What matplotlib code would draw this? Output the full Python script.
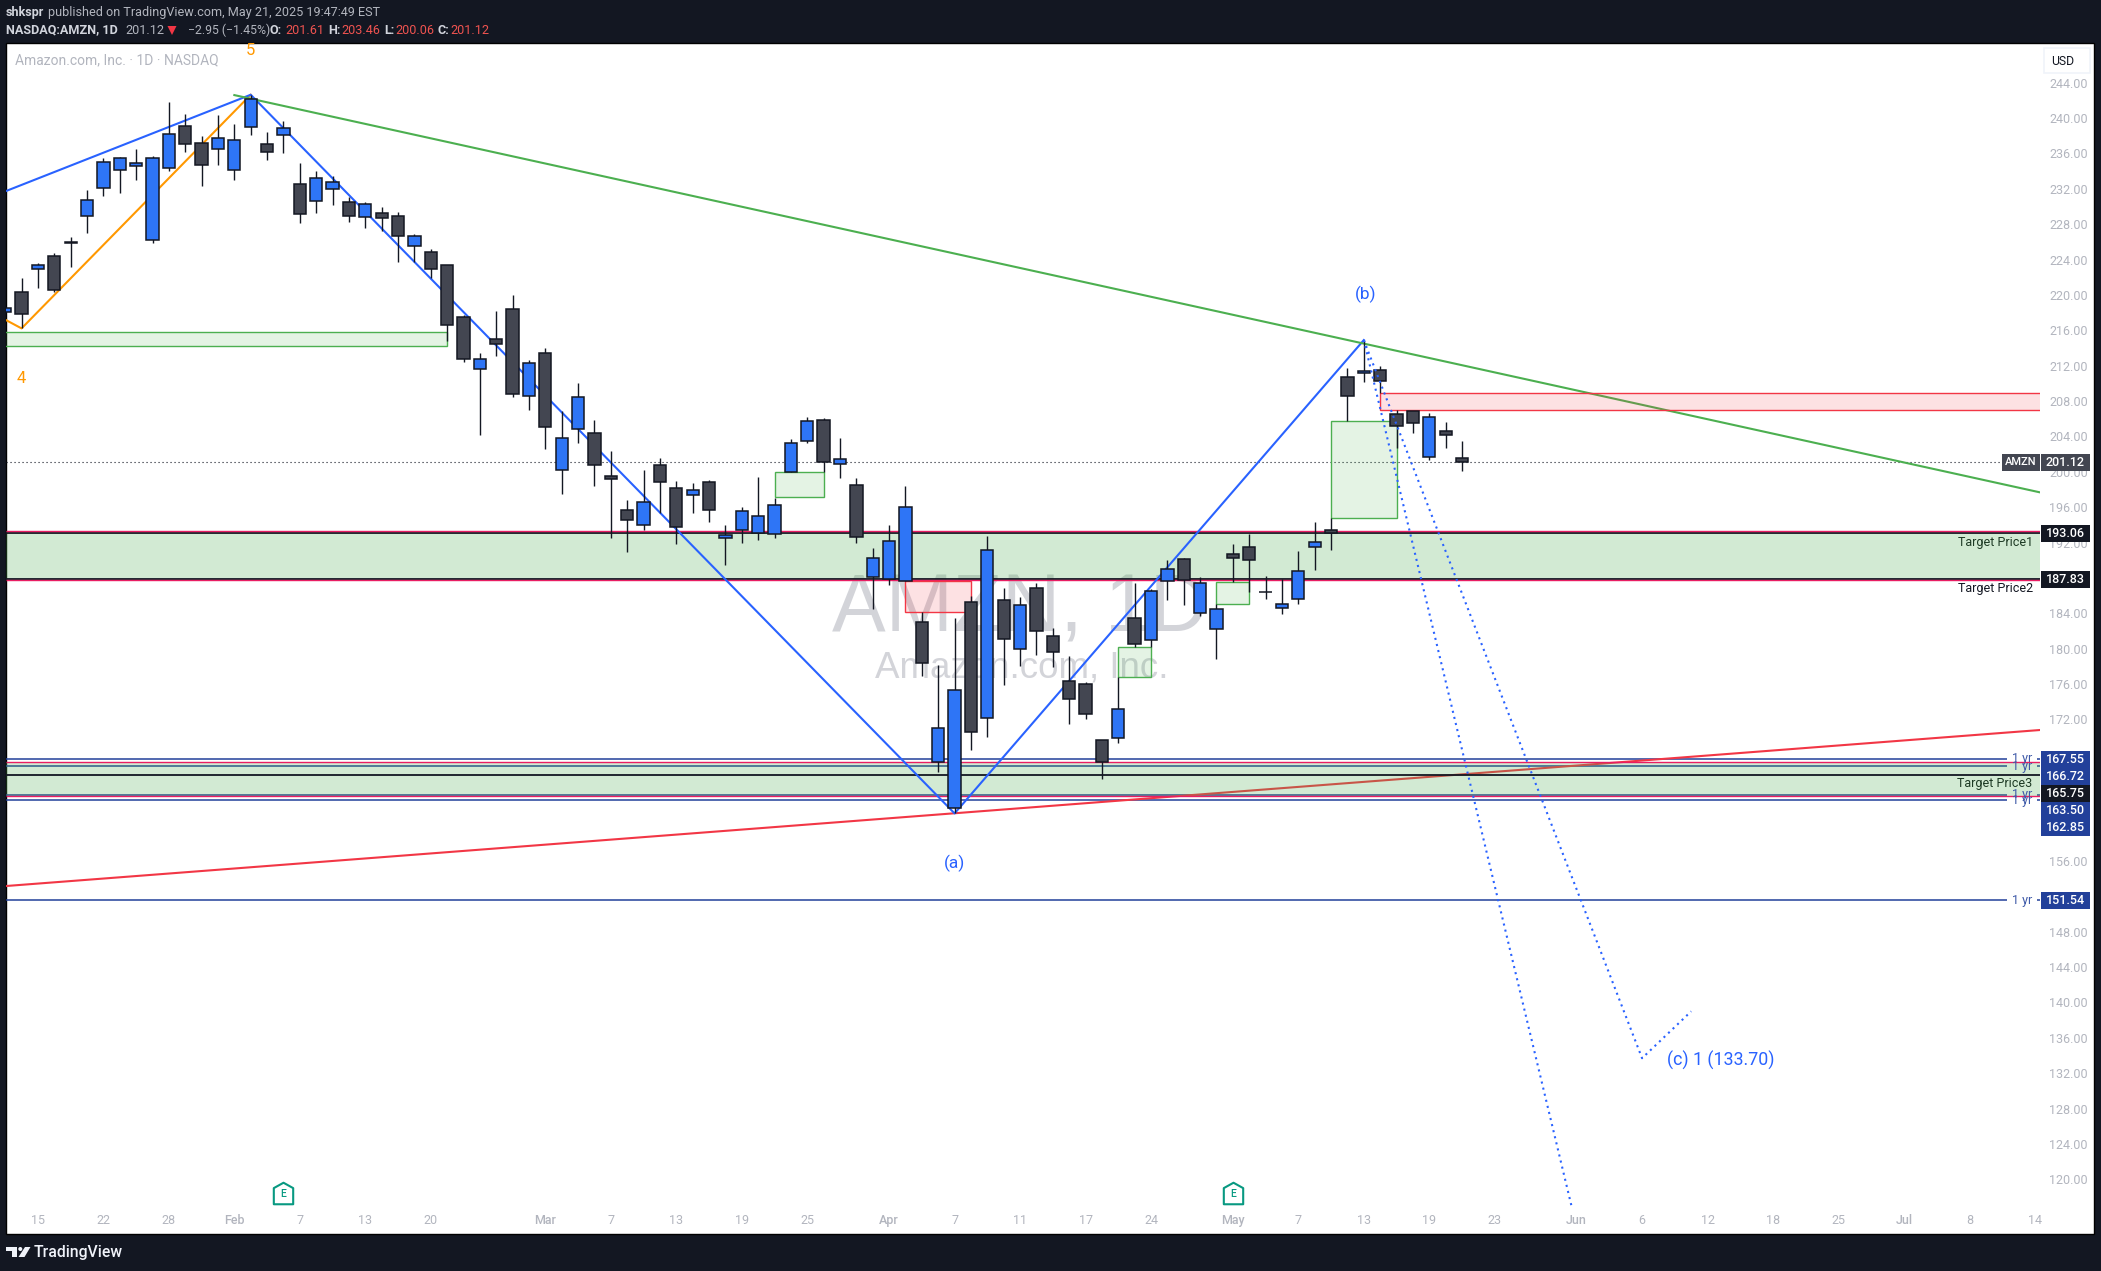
import numpy as np
import matplotlib
matplotlib.use("Agg")
import matplotlib.pyplot as plt
from matplotlib.patches import Rectangle, Polygon, Circle
from matplotlib.path import Path
from matplotlib.transforms import IdentityTransform

plt.rcParams['font.family'] = ['Roboto', 'DejaVu Sans']

W, H = 2101, 1271

# daily candles, bar -2 is Jan 13 2025
bar_first = -2
opens = [218.03, 220.37, 222.89, 224.44, 225.98, 228.88, 232.05, 234.09, 234.54, 226.17,
         234.31, 239.06, 237.14, 236.46, 234.09, 239.02, 237.03, 238.04, 232.50, 230.58,
         231.94, 230.47, 228.85, 229.22, 228.88, 225.49, 224.81, 223.34, 217.46, 211.58,
         214.98, 218.37, 208.61, 213.39, 200.17, 204.80, 204.35, 199.49, 195.64, 193.95,
         200.73, 198.13, 197.41, 198.81, 192.48, 193.39, 193.05, 192.93, 200.02, 203.52,
         205.82, 200.85, 198.47, 188.15, 187.85, 187.62, 182.98, 167.15, 161.95, 185.24,
         172.13, 185.47, 179.93, 186.83, 181.40, 176.31, 175.97, 169.64, 169.87, 183.43,
         180.95, 187.62, 190.11, 184.00, 182.19, 190.67, 191.46, 186.45, 184.57, 185.58,
         191.46, 193.39, 210.68, 211.14, 211.48, 206.50, 206.88, 201.64, 204.58, 201.61]
highs = [218.70, 221.87, 223.57, 224.70, 226.51, 231.86, 235.44, 235.63, 236.50, 235.71,
         241.81, 240.46, 237.97, 240.34, 239.33, 242.64, 238.42, 239.67, 234.88, 234.01,
         233.41, 231.11, 230.54, 229.90, 229.37, 226.89, 225.19, 223.34, 217.73, 213.39,
         218.14, 219.99, 212.64, 213.96, 206.88, 210.00, 205.86, 202.35, 196.81, 200.20,
         201.52, 198.96, 198.70, 199.08, 193.99, 196.06, 199.38, 197.00, 203.67, 206.16,
         206.05, 203.79, 199.30, 191.39, 193.99, 198.40, 184.19, 178.16, 183.47, 186.00,
         192.75, 186.87, 185.85, 187.43, 182.34, 179.18, 176.20, 169.64, 176.84, 187.39,
         186.71, 190.03, 190.22, 188.11, 185.06, 191.84, 192.97, 188.22, 187.88, 191.05,
         194.33, 194.78, 211.74, 214.90, 211.97, 207.00, 206.88, 206.61, 205.63, 203.46]
lows = [217.80, 216.22, 220.82, 220.37, 223.19, 227.04, 231.22, 231.56, 232.99, 225.91,
        234.05, 236.16, 232.31, 234.69, 232.99, 238.08, 235.26, 236.08, 228.17, 229.30,
        230.20, 228.28, 227.60, 227.26, 223.76, 223.76, 221.87, 214.83, 212.45, 204.17,
        213.13, 208.49, 206.98, 202.58, 197.53, 203.30, 198.43, 192.55, 190.97, 193.46,
        195.30, 191.87, 195.38, 194.37, 189.47, 192.00, 192.29, 192.56, 200.02, 203.29,
        199.94, 199.34, 191.99, 184.53, 187.24, 187.62, 176.91, 166.06, 161.38, 168.58,
        170.05, 175.90, 178.04, 179.29, 177.97, 171.52, 172.09, 165.31, 169.38, 180.16,
        180.23, 185.55, 184.94, 183.74, 178.84, 187.51, 186.37, 185.62, 183.96, 185.09,
        188.90, 191.20, 205.75, 210.19, 208.87, 202.73, 204.43, 201.34, 202.73, 200.06]
closes = [218.48, 217.80, 223.34, 220.59, 225.90, 230.69, 234.99, 235.44, 234.88, 235.44,
          238.16, 237.10, 234.65, 237.71, 237.48, 242.12, 236.20, 238.84, 229.11, 233.18,
          232.73, 228.88, 230.32, 228.66, 226.62, 226.62, 222.89, 216.56, 212.71, 212.79,
          214.41, 208.76, 212.26, 205.03, 203.79, 208.42, 200.73, 199.22, 194.51, 196.55,
          198.89, 193.80, 197.90, 195.72, 192.82, 195.53, 194.97, 196.21, 203.22, 205.71,
          201.15, 201.41, 192.67, 190.22, 192.14, 195.99, 178.42, 170.99, 175.29, 170.62,
          191.12, 181.14, 184.90, 182.04, 179.59, 174.28, 172.58, 167.23, 173.14, 180.57,
          186.49, 188.98, 187.73, 187.39, 184.45, 190.22, 189.99, 186.40, 185.02, 188.75,
          192.03, 193.05, 208.61, 211.36, 210.23, 205.14, 205.56, 206.16, 204.12, 201.12]

# axis labels
x_tick_bars = [0, 4, 8, 12, 16, 20, 24, 31, 35, 39, 43, 47, 52, 56, 60, 64, 68, 73, 77, 81,
               85, 89, 94, 98, 102, 106, 110, 114, 118, 122]
x_tick_labels = ['15', '22', '28', 'Feb', '7', '13', '20', 'Mar', '7', '13', '19', '25', 'Apr',
                 '7', '11', '17', '24', 'May', '7', '13', '19', '23', 'Jun', '6', '12', '18',
                 '25', 'Jul', '8', '14']
# 152, 160, 164 and 188 sit fully behind the price tags
y_ticks = [v for v in range(120, 245, 4) if v not in (152, 160, 164, 188)]

# drawn lines: bar number, price
orange_bars = [-1.95, -1, 13]
orange_prices = [217.16, 216.22, 242.64]
zigzag_bars = [-1.95, 13, 56, 81]
zigzag_prices = [231.75, 242.64, 161.38, 214.9]
green_bars = [12, 122.31]
green_prices = [242.6, 197.68]
red_bars = [-1.95, 122.31]
red_prices = [153.17, 170.81]
proj1_bars = [81, 93.68]
proj1_prices = [214.9, 117.05]
proj2_bars = [81, 98, 101]
proj2_prices = [214.9, 133.7, 139.0]

# boxes: bar from, bar to, price top, price bottom
green_boxes = [(-3, 25, 215.77, 214.18), (45, 48, 199.94, 197.12), (66, 68, 180.16, 176.84),
               (72, 74, 187.51, 185.09), (79, 83, 205.71, 194.81)]
red_boxes = [(53, 57, 187.62, 184.19), (82, 123, 208.87, 206.95)]
bands = [(193.28, 187.72), (167.15, 163.30)]
target_prices = [193.06, 187.83, 165.75]
year_levels = [167.55, 166.72, 163.50, 162.85, 151.54]
earnings_bars = [15, 73]

BLUE = '#2e75f6'
DARK = '#434651'
INK = '#131722'
TAG_BLUE = '#22409a'
WAVE = '#2962ff'
ORANGE = '#ff9800'
GREY = '#b2b5be'

fig = plt.figure(figsize=(W / 100, H / 100), dpi=100, facecolor=INK)
px = IdentityTransform()


def ptext(x, y, s, **kw):
    kw.setdefault('va', 'center')
    kw.setdefault('zorder', 12)
    return fig.text(x, H - y, s, transform=px, **kw)


def pbox(x0, y0, x1, y1, color, **kw):
    kw.setdefault('zorder', 11)
    fig.add_artist(Rectangle((x0, H - y1), x1 - x0, y1 - y0, facecolor=color,
                             edgecolor=kw.pop('edgecolor', 'none'), transform=px, **kw))


pbox(6, 43, 2094, 1234, 'white', edgecolor='black', zorder=-1, linewidth=1)

ax = fig.add_axes([6 / W, (H - 1206) / H, (2040 - 6) / W, (1206 - 43) / H], zorder=1)
ax.patch.set_visible(False)
for s in ax.spines.values():
    s.set_visible(False)
ax.set_xlim(-1.95, 122.31)
ax.set_ylim(116.99, 248.49)

ax.yaxis.tick_right()
ax.set_yticks(y_ticks, ['%.2f' % v for v in y_ticks])
ax.tick_params(axis='y', length=0, pad=6.5, labelsize=9, labelcolor=GREY)
ax.set_xticks(x_tick_bars, x_tick_labels)
ax.tick_params(axis='x', length=0, pad=6, labelsize=9, labelcolor=GREY)
for lab in ax.get_xticklabels():
    if not lab.get_text().isdigit():
        lab.set_fontweight('medium')

# watermarks
ptext(15, 60, 'Amazon.com, Inc. · 1D · NASDAQ', color=GREY, fontsize=10)
fig.text(1020, H - 631.7, 'AMZN, 1D', transform=px, color='#d3d4d9', fontsize=58,
         family='Liberation Sans', ha='center', va='baseline', zorder=0.5)
fig.text(1022, H - 678, 'Amazon.com, Inc.', transform=px, color='#d3d4d9', fontsize=26.5,
         family='Liberation Sans', ha='center', va='baseline', zorder=0.5)

# horizontal levels under the bands
for lv in year_levels:
    ax.hlines(lv, -1.95, 120.3, color=TAG_BLUE, lw=1.1, zorder=2)
    ax.hlines(lv, 122.1, 122.31, color=TAG_BLUE, lw=1.1, zorder=2)
ax.plot(red_bars, red_prices, color='#f23645', lw=1.5, zorder=2)
for top, bot in bands:
    ax.axhspan(bot, top, facecolor='#4caf50', alpha=0.25, lw=0, zorder=3)
for lv in target_prices:
    ax.axhline(lv, color=INK, lw=1.3, zorder=3.2)
for top, bot in bands:
    ax.hlines([top, bot], -1.95, 122.31, color='#e91e63', lw=1.0, zorder=3.4)

ax.hlines(closes[-1], -1.95, 120.1, color=INK, lw=0.8, linestyles=(0, (1, 2.6)), zorder=3)

ax.plot(orange_bars, orange_prices, color=ORANGE, lw=1.5, zorder=4)
ax.plot(zigzag_bars, zigzag_prices, color=WAVE, lw=1.5, zorder=4)
ax.plot(green_bars, green_prices, color='#4caf50', lw=1.5, zorder=4)

for boxes, col in ((green_boxes, '#4caf50'), (red_boxes, '#f23645')):
    for x0, x1, top, bot in boxes:
        ax.add_patch(Rectangle((x0, bot), x1 - x0, top - bot, facecolor=matplotlib.colors.to_rgba(col, 0.15),
                               edgecolor=col, lw=1.0, zorder=4.5))

# candles
bars = bar_first + np.arange(len(closes))
opens, highs, lows, closes = map(np.array, (opens, highs, lows, closes))
ax.vlines(bars, lows, highs, color=INK, lw=1.0, zorder=5)
up = closes >= opens
ax.bar(bars, np.abs(closes - opens), bottom=np.minimum(opens, closes), width=0.75,
       color=np.where(up, BLUE, DARK), edgecolor=INK, linewidth=1.1, zorder=6)

ax.plot(proj1_bars, proj1_prices, color=WAVE, lw=1.5, ls=(0, (1, 2)), zorder=7)
ax.plot(proj2_bars, proj2_prices, color=WAVE, lw=1.5, ls=(0, (1, 2)), zorder=7)

# wave labels
ax.text(13, 247.6, '5', color=ORANGE, fontsize=12, ha='center', va='center', clip_on=True, zorder=7)
ax.text(-1, 210.6, '4', color=ORANGE, fontsize=12, ha='center', va='center', zorder=7)
ax.text(81.1, 220.1, '(b)', color=WAVE, fontsize=12.5, ha='center', va='center', zorder=7)
ax.text(56, 155.7, '(a)', color=WAVE, fontsize=12.5, ha='center', va='center', zorder=7)
ax.text(99.5, 133.5, '(c) 1 (133.70)', color=WAVE, fontsize=12.9, ha='left', va='center', zorder=7)

# earnings flags
house = Path([(-0.45, -0.5), (0.45, -0.5), (0.45, 0.25), (0, 0.5), (-0.45, 0.25), (-0.45, -0.5)], closed=True)
for b in earnings_bars:
    ax.plot([b], [0.0116], transform=ax.get_xaxis_transform(), marker=house, ms=15.5,
            mfc='white', mec='#089981', mew=1.5, zorder=8, clip_on=False)
    ax.text(b, 0.0105, 'E', transform=ax.get_xaxis_transform(), color='#089981', fontsize=7.5,
            fontweight='medium', ha='center', va='center', zorder=9)

# price scale tags
tag_x0, tag_x1, tag_cx = 2041, 2090, 2065.5
tags = [('201.12', 462.3, DARK), ('193.06', 533.7, INK), ('187.83', 579.7, INK),
        ('167.55', 759.7, TAG_BLUE), ('166.72', 776.7, TAG_BLUE), ('165.75', 793.7, INK),
        ('163.50', 810.7, TAG_BLUE), ('162.85', 827.7, TAG_BLUE), ('151.54', 900.3, TAG_BLUE)]
for txt, yc, col in tags:
    pbox(tag_x0, yc - 8.5, tag_x1, yc + 8.5, col)
    ptext(tag_cx, yc, txt, color='white', fontsize=9, fontweight='medium', ha='center')
pbox(2002, 454, 2039.5, 471, DARK)
ptext(2020.7, 462.3, 'AMZN', color='white', fontsize=8, fontweight='medium', ha='center')

for txt, yc, col in (('Target Price1', 542.7, '#1d3a24'), ('Target Price2', 588.7, INK),
                     ('Target Price3', 783.7, '#1d3a24')):
    ptext(2032.7, yc, txt, color=col, fontsize=9, ha='right')
for lv in year_levels:
    ptext(2012, 82.7 + (244 - lv) * 8.844, '1 yr', color='#3f5aa8', fontsize=9, ha='left')

fig.add_artist(Rectangle((2044, H - 73), 46, 25, facecolor='white', edgecolor='#f0f3fa', lw=1.2,
                         transform=px, zorder=11))
ptext(2063, 61.7, 'USD', color=INK, fontsize=8.8, ha='center')

# header
ptext(6, 12.6, 'shkspr', color='#d1d4dc', fontsize=9.1, fontweight='bold')
ptext(47.5, 12.6, 'published on TradingView.com, May 21, 2025 19:47:49 EST', color=GREY, fontsize=9.1)
ptext(6, 30, 'NASDAQ:AMZN, 1D', color='#d1d4dc', fontsize=9.1, fontweight='bold')
ptext(125, 30, '201.12', color=GREY, fontsize=9.1)
fig.add_artist(Polygon([(167.5, H - 26), (176.5, H - 26), (172, H - 35)], facecolor='#f23645', transform=px, zorder=12))
ptext(187.5, 30, '−2.95 (−1.45%)', color=GREY, fontsize=8.8)
for x_lab, lab, x_val, val in ((270, 'O:', 285.7, '201.61'), (328, 'H:', 341.5, '203.46'),
                               (384, 'L:', 395, '200.06'), (438, 'C:', 450, '201.12')):
    ptext(x_lab, 30, lab, color='#d1d4dc', fontsize=9.1, fontweight='bold')
    ptext(x_val, 30, val, color='#ef5350', fontsize=9.1)

# footer logo
white = '#f0f3fa'
fig.add_artist(Polygon([(6, H - 1247), (17, H - 1247), (17, H - 1257), (11.5, H - 1257), (11.5, H - 1251), (6, H - 1251)],
                       facecolor=white, transform=px, zorder=12))
fig.add_artist(Circle((20.3, H - 1249), 2, facecolor=white, transform=px, zorder=12))
fig.add_artist(Polygon([(25, H - 1247), (30.5, H - 1247), (24.5, H - 1257), (18.5, H - 1257)],
                       facecolor=white, transform=px, zorder=12))
ptext(34, 1252.7, 'TradingView', color=white, fontsize=11.3, fontweight='medium')

fig.savefig('out.png', dpi=100, facecolor=fig.get_facecolor())
